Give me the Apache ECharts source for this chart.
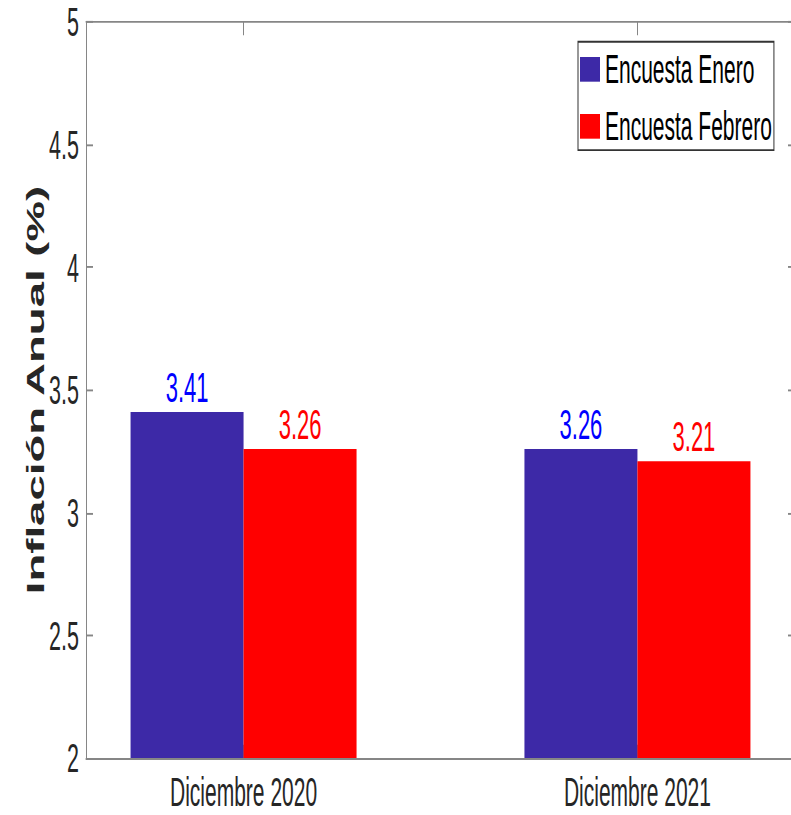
<!DOCTYPE html>
<html>
<head>
<meta charset="utf-8">
<script src="https://cdn.jsdelivr.net/npm/echarts@6/dist/echarts.min.js"></script>
<style>
	html, body { margin: 0; padding: 0; background: #fff; }
	#marco { width: 791px; height: 815px; overflow: hidden; position: relative; }
	/* la figura original esta estirada en vertical (~1.9x), se reproduce con un scaleY */
	#chart { width: 791px; height: 429px; transform: scaleY(1.8998); transform-origin: 0 0; }
</style>
</head>
<body>
<div id="marco"><div id="chart"></div></div>
<script type="text/javascript">
	// datos
	var categorias = ['Diciembre 2020', 'Diciembre 2021'];
	var posiciones = [1, 2];
	var encuestaEnero = [3.41, 3.26];
	var encuestaFebrero = [3.26, 3.21];
	var ticksY = [2, 2.5, 3, 3.5, 4, 4.5, 5];

	var fuente = '"Liberation Sans", Arial, sans-serif';
	var gris = '#868686';
	var texto = '#262626';

	function pares(vals) {
		return vals.map(function (v, i) { return [posiciones[i], v]; });
	}

	var myChart = echarts.init(document.getElementById('chart'), null, { renderer: 'svg' });
	var option = {
		animation: false,
		backgroundColor: '#fff',
		grid: { left: 86, right: -4, top: 11.6, bottom: 30, outerBoundsMode: 'none', containLabel: false },
		legend: {
			orient: 'vertical',
			left: 578,
			top: 22,
			padding: [4, 2, 2, 2],
			itemWidth: 20,
			itemHeight: 13,
			itemGap: 9,
			borderColor: '#333',
			borderWidth: 1,
			borderRadius: 0,
			backgroundColor: '#fff',
			icon: 'rect',
			textStyle: { fontFamily: fuente, fontSize: 21, lineHeight: 21, color: '#000' },
			data: ['Encuesta Enero', 'Encuesta Febrero']
		},
		xAxis: [{
			type: 'value',
			min: 0.6,
			max: 2.4,
			position: 'bottom',
			splitLine: { show: false },
			axisLine: { show: true, lineStyle: { color: gris, width: 1 } },
			axisTick: { show: true, inside: true, length: 7, customValues: posiciones, lineStyle: { color: gris } },
			axisLabel: {
				customValues: posiciones,
				margin: 9,
				fontFamily: fuente,
				fontSize: 21,
				lineHeight: 18,
				color: texto,
				formatter: function (v) { return categorias[posiciones.indexOf(v)] || ''; }
			}
		}, {
			type: 'value',
			min: 0.6,
			max: 2.4,
			position: 'top',
			splitLine: { show: false },
			axisLine: { show: true, lineStyle: { color: gris, width: 1 } },
			axisTick: { show: true, inside: true, length: 7, customValues: posiciones, lineStyle: { color: gris } },
			axisLabel: { show: false }
		}],
		yAxis: [{
			type: 'value',
			min: 2,
			max: 5,
			interval: 0.5,
			position: 'left',
			name: 'Inflación Anual (%)',
			nameLocation: 'middle',
			nameGap: 38,
			nameMoveOverlap: false,
			nameTextStyle: { fontFamily: fuente, fontSize: 24, fontWeight: 'bold', color: texto },
			splitLine: { show: false },
			axisLine: { show: true, lineStyle: { color: gris, width: 1 } },
			axisTick: { show: true, inside: true, length: 7, lineStyle: { color: gris } },
			axisLabel: {
				margin: 7,
				fontFamily: fuente,
				fontSize: 21.5,
				color: texto,
				customValues: ticksY
			}
		}, {
			type: 'value',
			min: 2,
			max: 5,
			interval: 0.5,
			position: 'right',
			splitLine: { show: false },
			axisLine: { show: true, lineStyle: { color: gris, width: 1 } },
			axisTick: { show: true, inside: true, length: 7, lineStyle: { color: gris } },
			axisLabel: { show: false }
		}],
		series: [{
			name: 'Encuesta Enero',
			type: 'bar',
			xAxisIndex: 0,
			yAxisIndex: 0,
			barWidth: 113,
			barGap: '0%',
			itemStyle: { color: '#3D29A7' },
			label: {
				show: true,
				position: 'top',
				distance: 2,
				fontFamily: fuente,
				fontSize: 22,
				color: '#0000FF',
				formatter: function (p) { return p.value[1].toFixed(2); }
			},
			data: pares(encuestaEnero)
		}, {
			name: 'Encuesta Febrero',
			type: 'bar',
			xAxisIndex: 0,
			yAxisIndex: 0,
			barWidth: 113,
			barGap: '0%',
			itemStyle: { color: '#FF0000' },
			label: {
				show: true,
				position: 'top',
				distance: 2,
				fontFamily: fuente,
				fontSize: 22,
				color: '#FF0000',
				formatter: function (p) { return p.value[1].toFixed(2); }
			},
			data: pares(encuestaFebrero)
		}]
	};
	myChart.setOption(option);
</script>
</body>
</html>
